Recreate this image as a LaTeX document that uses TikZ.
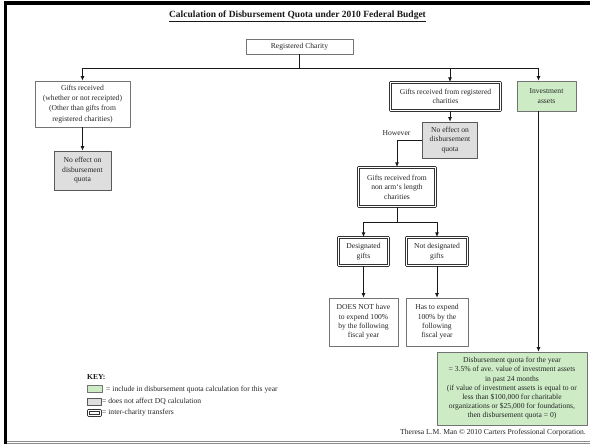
\documentclass[tikz,border=0pt]{standalone}
\usepackage{fontspec}
\setmainfont{Liberation Serif}
\usetikzlibrary{arrows.meta}
\definecolor{dqgreen}{RGB}{205,236,198}
\definecolor{dqgray}{RGB}{222,222,222}
\begin{document}
\begin{tikzpicture}[x=1pt, y=-1pt, line join=round, >={Latex[length=4.5pt,width=3.8pt]},
  font=\fontsize{7.6}{9.4}\selectfont,
  box/.style={draw=black!55, line width=0.6pt, fill=white, align=center, inner sep=1pt, text=black!85},
  grnbox/.style={box, fill=dqgreen},
  grybox/.style={box, fill=dqgray, draw=black!65},
  xferbox/.style={box, draw=black!80, line width=1.1pt, double=white, double distance=0.8pt},
  conn/.style={draw=black!90, line width=0.7pt}]
\useasboundingbox[fill=white] (0,0) rectangle (590,444);
% frame
\fill[black] (4,1) rectangle (590,5);
\fill[black] (4,1) rectangle (7,444);
\draw[black!45, line width=0.6pt] (7,441) -- (590,441) (7,443.4) -- (590,443.4);
% title
\node[font=\fontsize{9.5}{11}\selectfont\bfseries, text=black!90] (title) at (297.5,16)
  {\underline{Calculation of Disbursement Quota under 2010 Federal Budget}};
% boxes
\node[box, minimum width=107pt, minimum height=15pt] (rc) at (299.5,46.5) {Registered Charity};
\node[box, minimum width=95pt, minimum height=46pt, font=\fontsize{7.6}{10.2}\selectfont] (gifts) at (82.5,104)
  {Gifts received\\(whether or not receipted)\\(Other than gifts from\\registered charities)};
\node[grybox, minimum width=57pt, minimum height=39pt] (noeffL) at (82.5,170.5)
  {No effect on\\disbursement\\quota};
\node[xferbox, minimum width=110pt, minimum height=28pt] (fromreg) at (445.5,96.5)
  {Gifts received from registered\\charities};
\node[grnbox, minimum width=59pt, minimum height=30pt] (inv) at (546.5,96) {Investment\\assets};
\node[grybox, minimum width=55pt, minimum height=36pt] (noeffR) at (450,140)
  {No effect on\\disbursement\\quota};
\node[xferbox, minimum width=77pt, minimum height=39pt] (nonarm) at (397,187)
  {Gifts received from\\non arm`s length\\charities};
\node[xferbox, minimum width=50pt, minimum height=28pt] (desig) at (363.5,251.5) {Designated\\gifts};
\node[xferbox, minimum width=61pt, minimum height=28pt] (notdes) at (437,251.5) {Not designated\\gifts};
\node[box, minimum width=69pt, minimum height=48pt] (doesnot) at (363.5,322)
  {DOES NOT have\\to expend 100\%\\by the following\\fiscal year};
\node[box, minimum width=62pt, minimum height=48pt] (hasto) at (437,322)
  {Has to expend\\100\% by the\\following\\fiscal year};
\node[grnbox, minimum width=150pt, minimum height=73pt, font=\fontsize{7.6}{9.2}\selectfont] (dq) at (512,388.5)
  {Disbursement quota for the year\\= 3.5\% of ave. value of investment assets\\in past 24 months\\(if value of investment assets is equal to or\\less than \$100,000 for charitable\\organizations or \$25,000 for foundations,\\then disbursement quota = 0)};
% connectors
\coordinate (busL) at (82.5,68);
\coordinate (busM) at (450,68);
\coordinate (busR) at (538.5,68);
\coordinate (split) at (397,222);
\draw[conn] (busL) -- (busR);
\draw[conn] (rc.south) -- (rc.south |- busL);
\draw[conn,->] (busL) -- (gifts.north);
\draw[conn,->] (busM) -- (busM |- fromreg.north);
\draw[conn,->] (busR) -- (busR |- inv.north);
\draw[conn,->] (gifts) -- (noeffL);
\draw[conn,->] (fromreg.south -| noeffR) -- (noeffR);
\draw[conn,->] (noeffR.west) -| (nonarm.north);
\node[inner sep=0pt, text=black!85] (however) at (396.5,133) {However};
\draw[conn] (nonarm) -- (split);
\draw[conn,->] (split) -| (desig.north);
\draw[conn,->] (split) -| (notdes.north);
\draw[conn,->] (desig) -- (doesnot);
\draw[conn,->] (notdes) -- (hasto);
\draw[conn,->] (inv.south -| busR) -- (busR |- dq.north);
% key
\node[anchor=west, inner sep=0pt, font=\fontsize{7.6}{9}\selectfont\bfseries, text=black!90] (key) at (87,377) {KEY:};
\node[grnbox, minimum width=15pt, minimum height=7pt, inner sep=0pt] (kgreen) at (94.5,389) {};
\node[anchor=west, inner sep=0pt, text=black!85] (kgreentxt) at (106,390) {= include in disbursement quota calculation for this year};
\node[grybox, minimum width=14pt, minimum height=7pt, inner sep=0pt] (kgray) at (94,401.5) {};
\node[anchor=west, inner sep=0pt, text=black!85] (kgraytxt) at (102,401.5) {= does not affect DQ calculation};
\node[xferbox, minimum width=12pt, minimum height=5pt, inner sep=0pt] (kxfer) at (94,413) {};
\node[anchor=west, inner sep=0pt, text=black!85] (kxfertxt) at (102,413) {= inter-charity transfers};
% credit
\node[anchor=east, inner sep=0pt, text=black!85] (credit) at (586,433)
  {Theresa L.M. Man \textcopyright{} 2010 Carters Professional Corporation.};
\end{tikzpicture}
\end{document}
